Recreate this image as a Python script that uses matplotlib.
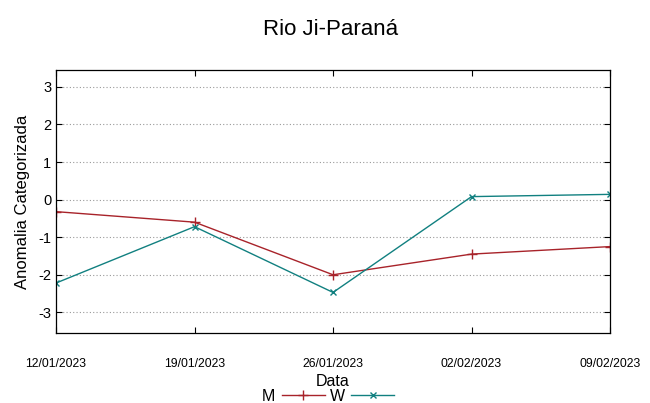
import matplotlib
matplotlib.use("Agg")
import matplotlib.pyplot as plt

plt.rcParams["font.family"] = ["Liberation Sans", "DejaVu Sans"]
plt.rcParams["axes.unicode_minus"] = False

# ===== データ =====
datas = ["12/01/2023", "19/01/2023", "26/01/2023", "02/02/2023", "09/02/2023"]
serie_m = [-0.32, -0.6, -2.0, -1.45, -1.25]
serie_w = [-2.22, -0.72, -2.47, 0.08, 0.14]
y_ticks = [-3, -2, -1, 0, 1, 2, 3]

cor_m = "#a8232a"
cor_w = "#118080"

fig = plt.figure(figsize=(6.5, 4.03), dpi=100)
ax = fig.add_axes([0.0862, 0.1737, 0.8523, 0.6526])

x = list(range(len(datas)))
ax.plot(x, serie_m, color=cor_m, marker="+", markersize=7, linewidth=1.0, label="M")
ax.plot(x, serie_w, color=cor_w, marker="x", markersize=5, linewidth=1.0, label="W")

ax.set_xlim(0, len(datas) - 1)
ax.set_ylim(-3.55, 3.45)
ax.set_xticks(x)
ax.set_xticklabels(datas, fontsize=8.8)
ax.set_yticks(y_ticks)
ax.tick_params(axis="y", labelsize=10.5, direction="in", right=True, length=4)
ax.tick_params(axis="x", direction="in", top=True, length=4, pad=18)

ax.yaxis.grid(True, linestyle=(0, (1, 2)), color="#999999", linewidth=0.8)
for s in ax.spines.values():
    s.set_linewidth(0.9)

ax.set_ylabel("Anomalia Categorizada", fontsize=12, labelpad=6)
ax.set_xlabel("Data", fontsize=11.5, labelpad=3)
fig.suptitle("Rio Ji-Paraná", fontsize=16, x=0.508, y=0.952)

fig.legend(loc="center", bbox_to_anchor=(0.505, 0.017), ncol=2, frameon=False,
           markerfirst=False, fontsize=11.5, handlelength=2.7, columnspacing=0.3,
           handletextpad=0.4, borderpad=0)

fig.savefig("out.png", dpi=100)
